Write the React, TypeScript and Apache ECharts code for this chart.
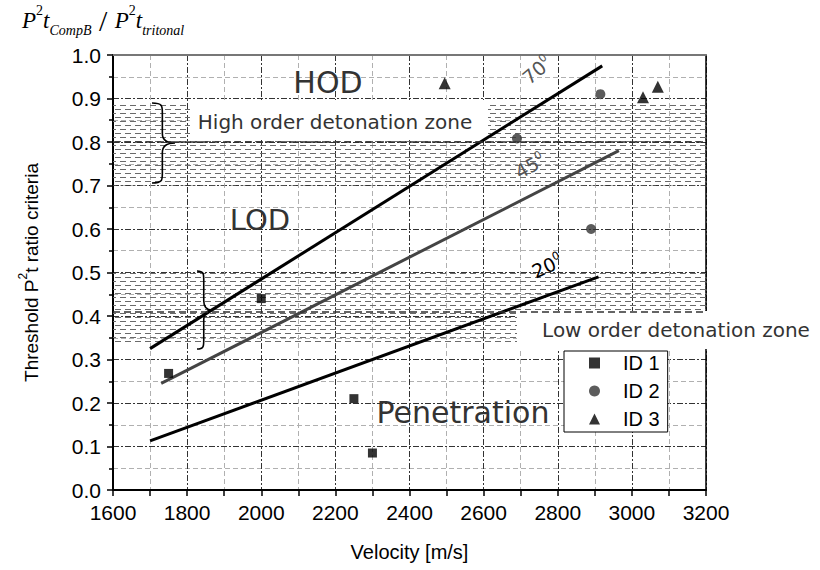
import React, { useEffect, useRef } from 'react';
import * as echarts from 'echarts';

// ---- data ----
const xMin = 1600, xMax = 3200, xStep = 200;
const yMin = 0, yMax = 1, yStep = 0.1;
const line70: number[][] = [[1700, 0.325], [2920, 0.975]];
const line45: number[][] = [[1730, 0.245], [2965, 0.78]];
const line20: number[][] = [[1700, 0.113], [2910, 0.49]];
const id1: number[][] = [[1750, 0.268], [2000, 0.44], [2250, 0.21], [2300, 0.085]];
const id2: number[][] = [[2690, 0.808], [2890, 0.6], [2915, 0.91]];
const id3: number[][] = [[2495, 0.935], [3030, 0.903], [3070, 0.927]];
const seriesNames = ['ID 1', 'ID 2', 'ID 3'];
const seriesIcons = ['rect', 'circle', 'triangle'];
const hodZone = [0.7, 0.89];
const hodCenter = 0.8;
const lodZone = [0.34, 0.5];
const lodCenter = 0.415;

function bracePath(w: number, h: number) {
  const m = w * 0.45;
  const r = Math.min(h * 0.12, 10);
  const k = m + (w - m) * 0.4;
  return `M0,0 C${m},0 ${m},${r * 0.3} ${m},${r} L${m},${h / 2 - r} C${m},${h / 2 - r * 0.3} ${k},${h / 2} ${w},${h / 2} C${k},${h / 2} ${m},${h / 2 + r * 0.3} ${m},${h / 2 + r} L${m},${h - r} C${m},${h - r * 0.3} ${m},${h} 0,${h}`;
}
echarts.graphic.registerShape('braceA', echarts.graphic.extendPath(bracePath(23, 80), {}) as any);
echarts.graphic.registerShape('braceB', echarts.graphic.extendPath(bracePath(15, 78), {}) as any);

const SANS = 'Liberation Sans';
const DV = 'DejaVu Sans';
const SERIF = 'Liberation Serif';

export default function App() {
  const ref = useRef<HTMLDivElement>(null);
  useEffect(() => {
    const el = ref.current!;
    const chart = echarts.init(el, null, { renderer: 'svg' });
    const cv = document.createElement('canvas');
    cv.width = 10; cv.height = 8;
    const ctx = cv.getContext('2d')!;
    ctx.fillStyle = '#6a6a6a';
    ctx.fillRect(0, 1, 6, 1);
    ctx.fillRect(5, 5, 5, 1);
    ctx.fillRect(0, 5, 1, 1);
    const hatch: any = { image: cv, repeat: 'repeat', imageWidth: 10, imageHeight: 8 };

    const majorSplit = { show: true, lineStyle: { color: '#333', type: [6, 2, 2, 2], width: 1 } };
    const minorSplit = { show: true, lineStyle: { color: '#b0b0b0', type: [5, 3], width: 1 } };

    const lineSeries = (name: string, data: number[][], color: string) => ({
      name, type: 'line', data, showSymbol: false, symbol: 'none', z: 3, silent: true,
      lineStyle: { color, width: 3 },
    });

    const option: any = {
      animation: false,
      grid: { left: 113, right: 114, top: 55, bottom: 80 },
      xAxis: [
        {
          type: 'value', min: xMin, max: xMax, interval: xStep,
          name: 'Velocity [m/s]', nameLocation: 'middle', nameGap: 52,
          nameTextStyle: { fontSize: 20, fontFamily: SANS, color: '#000' },
          axisLine: { show: true, onZero: false, lineStyle: { color: '#000', width: 2 } },
          axisTick: { show: true, length: 6, lineStyle: { color: '#000', width: 1.5 } },
          minorTick: { show: true, splitNumber: 2, length: 6, lineStyle: { color: '#000', width: 1.5 } },
          axisLabel: { fontSize: 21, fontFamily: SANS, color: '#000', margin: 12, formatter: (v: number) => String(v) },
          splitLine: majorSplit,
          minorSplitLine: minorSplit,
        },
        {
          type: 'value', position: 'top', min: xMin, max: xMax, interval: xStep,
          axisLine: { show: true, onZero: false, lineStyle: { color: '#777', width: 2 } },
          axisTick: { show: false }, axisLabel: { show: false }, splitLine: { show: false },
        },
      ],
      yAxis: [
        {
          type: 'value', min: yMin, max: yMax, interval: yStep,
          name: '{a|Threshold P}{s|2}{a|t ratio criteria}', nameLocation: 'middle', nameGap: 72,
          nameTextStyle: {
            rich: {
              a: { fontSize: 19, fontFamily: SANS, color: '#000', lineHeight: 24, verticalAlign: 'bottom' },
              s: { fontSize: 12, fontFamily: SANS, color: '#000', lineHeight: 24, verticalAlign: 'top' },
            },
          },
          axisLine: { show: true, onZero: false, lineStyle: { color: '#000', width: 2 } },
          axisTick: { show: true, length: 6, lineStyle: { color: '#000', width: 1.5 } },
          minorTick: { show: true, splitNumber: 2, length: 4, lineStyle: { color: '#000', width: 1.5 } },
          axisLabel: { fontSize: 21, fontFamily: SANS, color: '#000', margin: 12, formatter: (v: number) => v.toFixed(1) },
          splitLine: majorSplit,
          minorSplitLine: minorSplit,
        },
        {
          type: 'value', position: 'right', min: yMin, max: yMax, interval: yStep,
          axisLine: { show: true, onZero: false, lineStyle: { color: '#000', width: 1.5 } },
          axisTick: { show: false }, axisLabel: { show: false }, splitLine: { show: false },
        },
      ],
      legend: {
        orient: 'vertical', left: 564, top: 351,
        data: seriesNames.map((n, i) => ({ name: n, icon: seriesIcons[i] })),
        itemWidth: 11, itemHeight: 11, itemGap: 8, padding: [2, 8, 3, 25],
        backgroundColor: '#fff', borderColor: '#000', borderWidth: 1, borderRadius: 0,
        textStyle: { fontSize: 20, fontFamily: SANS, color: '#000', lineHeight: 20, padding: [0, 0, 0, 18] },
        selectedMode: false,
      },
      series: [
        {
          name: 'zones', type: 'line', data: [[xMin, hodCenter], [xMax, hodCenter]], showSymbol: false, symbol: 'none',
          lineStyle: { width: 0, opacity: 0 }, z: 1, silent: true,
          markArea: {
            silent: true, itemStyle: { color: hatch },
            data: [
              [{ yAxis: hodZone[0] }, { yAxis: hodZone[1] }],
              [{ yAxis: lodZone[0] }, { yAxis: lodZone[1] }],
            ],
          },
          markLine: {
            silent: true, symbol: 'none', label: { show: false },
            lineStyle: { color: '#333', type: [7, 4], width: 1.5 },
            data: [{ yAxis: hodCenter }, { yAxis: lodCenter }],
          },
        },
        lineSeries('70', line70, '#000'),
        lineSeries('45', line45, '#444'),
        lineSeries('20', line20, '#000'),
        { name: 'ID 1', type: 'scatter', data: id1, symbol: 'rect', symbolSize: 9, itemStyle: { color: '#000' }, z: 4 },
        { name: 'ID 2', type: 'scatter', data: id2, symbol: 'circle', symbolSize: 10, itemStyle: { color: '#333' }, z: 4 },
        { name: 'ID 3', type: 'scatter', data: id3, symbol: 'triangle', symbolSize: 12, itemStyle: { color: '#000' }, z: 4 },
      ],
      graphic: [
        { type: 'rect', z: 2, silent: true, shape: { x: 190, y: 100, width: 298, height: 40 }, style: { fill: '#fff' } },
        { type: 'rect', z: 2, silent: true, shape: { x: 517, y: 311, width: 303, height: 38 }, style: { fill: '#fff' } },
        { type: 'text', z: 5, x: 335, y: 122, style: { text: 'High order detonation zone', fontSize: 20, fontFamily: DV, fill: '#333', align: 'center', verticalAlign: 'middle' } },
        { type: 'text', z: 5, x: 676, y: 330, style: { text: 'Low order detonation zone', fontSize: 20, fontFamily: DV, fill: '#333', align: 'center', verticalAlign: 'middle' } },
        { type: 'text', z: 5, x: 328, y: 82, style: { text: 'HOD', fontSize: 30, fontFamily: DV, fill: '#333', align: 'center', verticalAlign: 'middle' } },
        { type: 'text', z: 5, x: 260, y: 220, style: { text: 'LOD', fontSize: 29, fontFamily: DV, fill: '#333', align: 'center', verticalAlign: 'middle' } },
        { type: 'text', z: 5, x: 463, y: 412, style: { text: 'Penetration', fontSize: 30, fontFamily: DV, fill: '#333', align: 'center', verticalAlign: 'middle' } },
        {
          type: 'text', z: 5, x: 537, y: 70, rotation: 0.7,
          style: { text: '70{o|0}', fontSize: 19, fontFamily: DV, fill: '#555', align: 'center', verticalAlign: 'middle',
            rich: { o: { fontSize: 11, fontFamily: DV, fill: '#555', verticalAlign: 'top', lineHeight: 22 } } },
        },
        {
          type: 'text', z: 5, x: 530, y: 166, rotation: 0.5,
          style: { text: '45{o|0}', fontSize: 19, fontFamily: DV, fill: '#555', align: 'center', verticalAlign: 'middle',
            rich: { o: { fontSize: 11, fontFamily: DV, fill: '#555', verticalAlign: 'top', lineHeight: 22 } } },
        },
        {
          type: 'text', z: 5, x: 547, y: 266, rotation: 0.42,
          style: { text: '20{o|0}', fontSize: 19, fontFamily: DV, fill: '#000', align: 'center', verticalAlign: 'middle',
            rich: { o: { fontSize: 11, fontFamily: DV, fill: '#000', verticalAlign: 'top', lineHeight: 22 } } },
        },
        { type: 'braceA', z: 5, x: 152, y: 103, style: { stroke: '#000', fill: 'none', lineWidth: 1.6 } },
        { type: 'braceB', z: 5, x: 197, y: 271, style: { stroke: '#000', fill: 'none', lineWidth: 1.6 } },
        {
          type: 'text', z: 5, x: 22, y: 3,
          style: {
            text: '{P|P}{s|2}{P|t}{b|CompB}{sl| / }{P|P}{s|2}{P|t}{b|tritonal}',
            rich: {
              P: { fontSize: 23, fontFamily: SERIF, fontStyle: 'italic', fill: '#000', lineHeight: 34, verticalAlign: 'middle' },
              s: { fontSize: 14, fontFamily: SERIF, fill: '#000', lineHeight: 17, verticalAlign: 'top' },
              b: { fontSize: 14, fontFamily: SERIF, fontStyle: 'italic', fill: '#000', lineHeight: 15, verticalAlign: 'bottom' },
              sl: { fontSize: 30, fontFamily: SERIF, fill: '#000', lineHeight: 34, verticalAlign: 'middle' },
            },
          },
        },
      ],
    };
    chart.setOption(option);
    return () => chart.dispose();
  }, []);
  return <div ref={ref} style={{ position: 'fixed', left: 0, top: 0, width: 820, height: 570, background: '#fff' }} />;
}
